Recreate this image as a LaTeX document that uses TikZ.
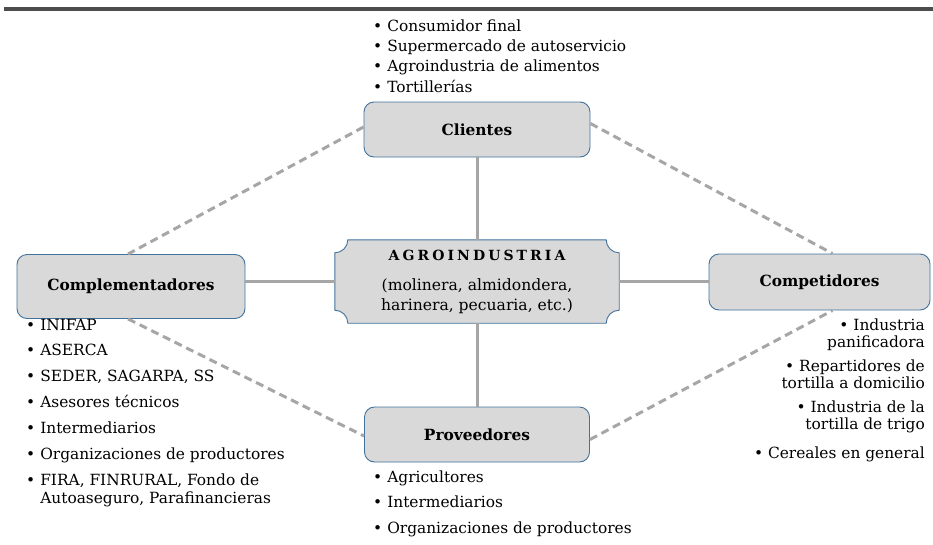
\documentclass[tikz,border=0pt]{standalone}
\usepackage{fontspec}
\setmainfont{DejaVu Serif}
\usetikzlibrary{calc,backgrounds}
\definecolor{boxfill}{HTML}{D9D9D9}
\definecolor{boxline}{HTML}{41719C}
\definecolor{linkgray}{HTML}{A6A6A6}
\definecolor{rulegray}{HTML}{4D4D4D}

\begin{document}
\begin{tikzpicture}[x=1pt,y=-1pt,
  actor/.style={draw=boxline, fill=boxfill, rounded corners=10pt, line width=0.9pt,
    inner sep=0pt, font=\fontsize{15.4}{18}\selectfont\bfseries},
  solidlink/.style={draw=linkgray, line width=3pt},
  dashlink/.style={draw=linkgray, line width=3pt, dash pattern=on 8pt off 5pt},
  listtext/.style={inner sep=0pt, font=\fontsize{15.4}{18.5}\selectfont},
]
\useasboundingbox (0,0) rectangle (933,544);
\fill[rulegray] (4,7) rectangle (933,11);

% the four actors around the industry
\node[actor, minimum width=226pt, minimum height=55pt] (clientes) at (477,129.5) {Clientes};
\node[actor, minimum width=228pt, minimum height=64pt] (compl) at (131,286.5) {Complementadores};
\node[actor, minimum width=221pt, minimum height=56pt] (compet) at (819.5,282) {Competidores};
\node[actor, minimum width=225pt, minimum height=55pt] (prov) at (477,434.5) {Proveedores};

% central plaque
\node[inner sep=0pt, minimum width=284pt, minimum height=83pt,
  font=\fontsize{15.6}{19.5}\selectfont] (agro) at (477,281.5)
  {\begin{tabular}{@{}c@{}}
   {\fontsize{14}{14}\selectfont\bfseries\addfontfeature{LetterSpace=22}AGROINDUSTRIA}\\[11pt]
   (molinera, almidondera,\\
   harinera, pecuaria, etc.)
   \end{tabular}};
\begin{scope}[on background layer]
\path[fill=boxfill, draw=boxline, line width=0.9pt]
  ($(agro.north west)+(13,0)$) -- ($(agro.north east)+(-13,0)$)
  .. controls ($(agro.north east)+(-13,7.2)$) and ($(agro.north east)+(-7.2,13)$) .. ($(agro.north east)+(0,13)$)
  -- ($(agro.south east)+(0,-13)$)
  .. controls ($(agro.south east)+(-7.2,-13)$) and ($(agro.south east)+(-13,-7.2)$) .. ($(agro.south east)+(-13,0)$)
  -- ($(agro.south west)+(13,0)$)
  .. controls ($(agro.south west)+(13,-7.2)$) and ($(agro.south west)+(7.2,-13)$) .. ($(agro.south west)+(0,-13)$)
  -- ($(agro.north west)+(0,13)$)
  .. controls ($(agro.north west)+(7.2,13)$) and ($(agro.north west)+(13,7.2)$) .. cycle;
\end{scope}

% solid links to the centre
\draw[solidlink] (clientes.south) -- (agro.north);
\draw[solidlink] (agro.south) -- (prov.north);
\draw[solidlink] (agro.west) -- (agro.west -| compl.east);
\draw[solidlink] (agro.east) -- (agro.east -| compet.west);

% dashed ring between the actors
\draw[dashlink] ($(clientes.west)+(0,-2.5)$) -- ($(compl.north)+(-3,0)$);
\draw[dashlink] ($(clientes.east)+(0,-6)$) -- ($(compet.north)+(13,0)$);
\draw[dashlink] ($(compl.south)+(-3,0)$) -- ($(prov.west)+(0,1.5)$);
\draw[dashlink] ($(prov.east)+(0,5)$) -- ($(compet.south)+(13,0)$);

% lists
\node[listtext, anchor=base west] (lcli) at (373,31.5)
  {\begin{tabular}[t]{@{}l@{\hspace{5pt}}l@{}}
   \textbullet & Consumidor final\\[1.7pt]
   \textbullet & Supermercado de autoservicio\\[1.7pt]
   \textbullet & Agroindustria de alimentos\\[1.7pt]
   \textbullet & Tortillerías
   \end{tabular}};
\node[listtext, anchor=base west] (lcom) at (26,330)
  {\begin{tabular}[t]{@{}l@{\hspace{5pt}}l@{}}
   \textbullet & INIFAP\\[7.4pt]
   \textbullet & ASERCA\\[7.4pt]
   \textbullet & SEDER, SAGARPA, SS\\[7.4pt]
   \textbullet & Asesores técnicos\\[7.4pt]
   \textbullet & Intermediarios\\[7.4pt]
   \textbullet & Organizaciones de productores\\[7.4pt]
   \textbullet & FIRA, FINRURAL, Fondo de\\
               & Autoaseguro, Parafinancieras
   \end{tabular}};
\node[listtext, anchor=base west] (lpro) at (373,482)
  {\begin{tabular}[t]{@{}l@{\hspace{5pt}}l@{}}
   \textbullet & Agricultores\\[7pt]
   \textbullet & Intermediarios\\[7pt]
   \textbullet & Organizaciones de productores
   \end{tabular}};
\node[listtext, anchor=base east] (lcpt) at (925,330)
  {\begin{tabular}[t]{@{}r@{}}
   \textbullet\ Industria\\[-1pt]
   panificadora\\[5pt]
   \textbullet\ Repartidores de\\[-1pt]
   tortilla a domicilio\\[5pt]
   \textbullet\ Industria de la\\[-1.5pt]
   tortilla de trigo\\[10.5pt]
   \textbullet\ Cereales en general
   \end{tabular}};
\end{tikzpicture}
\end{document}
